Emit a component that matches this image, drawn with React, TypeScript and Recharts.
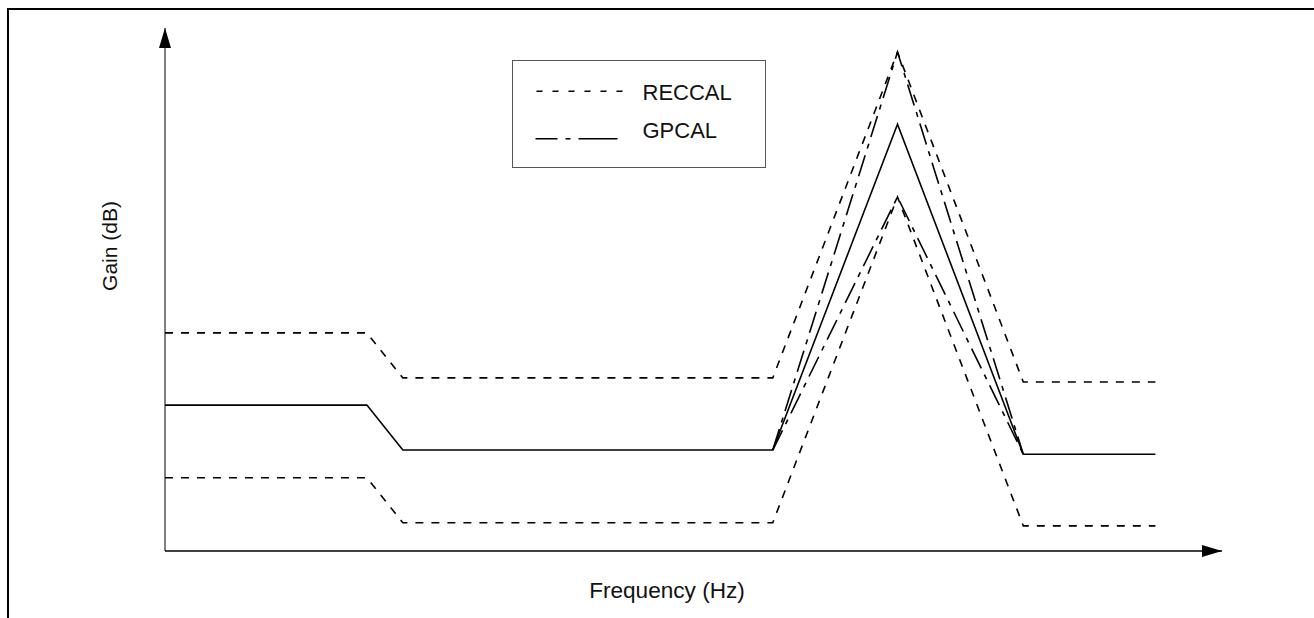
import React from 'react';
import { LineChart, Line, XAxis, YAxis, Legend, Label } from 'recharts';

// Frequency positions (arbitrary units, 0..100 along the frequency axis)
const freqPoints = [0, 19.1, 22.5, 57.5, 69.3, 81.2, 93.7];
// Gain values (arbitrary units, 0..100 along the gain axis)
const reccalUpper = [41.7, 41.7, 33.1, 33.1, 95.4, 32.3, 32.3];
const nominalGain = [27.9, 27.9, 19.3, 19.3, 81.6, 18.5, 18.5];
const reccalLower = [14.0, 14.0, 5.4, 5.4, 67.7, 4.8, 4.8];
const gpcalFreq = [57.5, 69.3, 81.2];
const gpcalUpper = [19.3, 95.4, 18.5];
const gpcalLower = [19.3, 67.7, 18.5];
const legendNames = ['RECCAL', 'GPCAL'];
const xTitle = 'Frequency (Hz)';
const yTitle = 'Gain (dB)';

const toRows = (xs: number[], ys: number[], key: string) =>
  xs.map((f, i) => ({ f, [key]: ys[i] }));

const upperRows = toRows(freqPoints, reccalUpper, 'upper');
const nominalRows = toRows(freqPoints, nominalGain, 'nominal');
const lowerRows = toRows(freqPoints, reccalLower, 'lower');
const gpUpperRows = toRows(gpcalFreq, gpcalUpper, 'gpUpper');
const gpLowerRows = toRows(gpcalFreq, gpcalLower, 'gpLower');

const FONT = '"Liberation Sans", Arial, Helvetica, sans-serif';
const RECCAL_DASH = '8 8';
const GPCAL_DASH = '22 7 5 7';

const LegendBox = () => (
  <div
    style={{
      width: 254,
      height: 108,
      border: '1.5px solid #555',
      boxSizing: 'border-box',
      background: '#fff',
    }}
  >
    <svg width={251} height={105} style={{ display: 'block', fontFamily: FONT }}>
      <line x1={23.5} x2={113.5} y1={30.2} y2={30.2} stroke="#000" strokeWidth={1.5} strokeDasharray="6 10" />
      <text x={129.5} y={38.5} fontSize={22} fill="#111">{legendNames[0]}</text>
      <line x1={22.5} x2={104.5} y1={77.8} y2={77.8} stroke="#000" strokeWidth={1.5} strokeDasharray="22 8 5 8 41" />
      <text x={129.5} y={77.2} fontSize={22} fill="#111">{legendNames[1]}</text>
    </svg>
  </div>
);

const common = {
  type: 'linear' as const,
  stroke: '#000',
  strokeWidth: 1.6,
  dot: false,
  activeDot: false,
  isAnimationActive: false,
  legendType: 'none' as const,
};

export default function App() {
  return (
    <div style={{ position: 'fixed', left: 0, top: 0, width: 1314, height: 618, background: '#fff', overflow: 'hidden' }}>
      <svg width={0} height={0} style={{ position: 'absolute' }}>
        <defs>
          <marker
            id="arrowHead"
            markerUnits="userSpaceOnUse"
            markerWidth={20}
            markerHeight={12}
            viewBox="0 0 20 12"
            refX={20}
            refY={6}
            orient="auto-start-reverse"
          >
            <path d="M0,0 L20,6 L0,12 z" fill="#000" />
          </marker>
        </defs>
      </svg>
      <div
        style={{
          position: 'absolute',
          left: 7,
          top: 8,
          right: 0,
          bottom: 0,
          borderTop: '2px solid #000',
          borderLeft: '2px solid #000',
        }}
      />
      <div style={{ position: 'absolute', left: 0, top: 0 }}>
        <LineChart
          width={1314}
          height={618}
          margin={{ top: 28, right: 92, bottom: 0, left: 0 }}
          style={{ fontFamily: FONT }}
        >
          <XAxis
            type="number"
            dataKey="f"
            domain={[0, 100]}
            height={67}
            tick={false}
            tickLine={false}
            axisLine={{ stroke: '#000', strokeWidth: 1.6, markerEnd: 'url(#arrowHead)' } as any}
          >
            <Label
              content={(props: any) => {
                const vb = props.viewBox || { x: 165, y: 551 };
                return (
                  <text x={vb.x + 502} y={vb.y + 47} textAnchor="middle" fontSize={22.6} fill="#111" fontFamily={FONT}>
                    {xTitle}
                  </text>
                );
              }}
            />
          </XAxis>
          <YAxis
            type="number"
            domain={[0, 100]}
            width={165}
            tick={false}
            tickLine={false}
            axisLine={{ stroke: '#000', strokeWidth: 1, markerStart: 'url(#arrowHead)' } as any}
          >
            <Label
              content={(props: any) => {
                const vb = props.viewBox || { x: 0, y: 28 };
                const cx = vb.x + 117;
                const cy = vb.y + 218;
                return (
                  <text
                    x={cx}
                    y={cy}
                    textAnchor="middle"
                    fontSize={21}
                    fill="#111"
                    fontFamily={FONT}
                    transform={`rotate(-90, ${cx}, ${cy})`}
                  >
                    {yTitle}
                  </text>
                );
              }}
            />
          </YAxis>
          <Legend
            layout="vertical"
            align="center"
            verticalAlign="middle"
            wrapperStyle={{ left: 512, top: 60, width: 254, height: 108 }}
            content={() => <LegendBox />}
          />
          <Line {...common} data={upperRows} dataKey="upper" name="RECCAL upper" strokeDasharray={RECCAL_DASH} />
          <Line {...common} data={lowerRows} dataKey="lower" name="RECCAL lower" strokeDasharray={RECCAL_DASH} />
          <Line {...common} data={nominalRows} dataKey="nominal" name="Nominal" />
          <Line {...common} data={gpUpperRows} dataKey="gpUpper" name="GPCAL upper" strokeDasharray={GPCAL_DASH} />
          <Line {...common} data={gpLowerRows} dataKey="gpLower" name="GPCAL lower" strokeDasharray={GPCAL_DASH} />
        </LineChart>
      </div>
    </div>
  );
}
